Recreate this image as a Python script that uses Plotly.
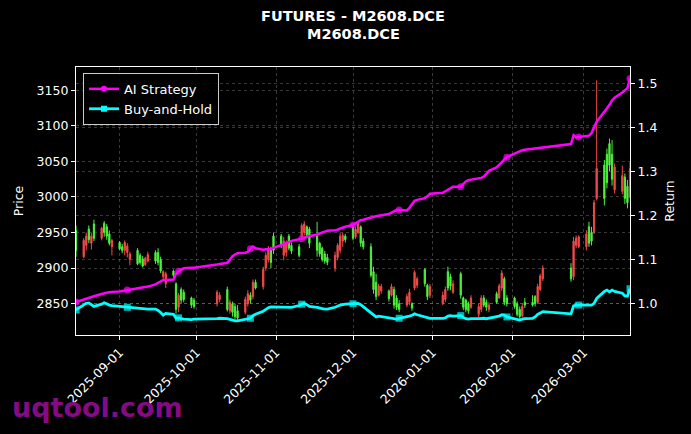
import pandas as pd
import plotly.graph_objects as go

# ---------------- data ----------------
holidays = ["2025-10-01", "2025-10-02", "2025-10-03", "2025-10-06", "2025-10-07", "2025-10-08",
            "2026-01-01", "2026-01-02",
            "2026-02-16", "2026-02-17", "2026-02-18", "2026-02-19", "2026-02-20", "2026-02-23"]
all_days = pd.bdate_range("2025-08-15", "2026-03-19")
dates = [d for d in all_days if d.strftime("%Y-%m-%d") not in holidays]

opens = [2953, 2916, 2932, 2955, 2935, 2962, 2942, 2963, 2958, 2948, 2930,
         2936, 2930, 2925, 2922, 2912, 2925, 2918, 2913, 2905, 2910, 2922, 2922, 2912, 2888, 2878,
         2896, 2878, 2845, 2870, 2866, 2858, 2855,
         2850, 2856, 2870, 2840, 2850, 2846, 2840, 2838, 2850, 2862, 2860, 2880, 2874, 2900, 2912, 2926, 2945,
         2945, 2918, 2922, 2945, 2932, 2930, 2944, 2950, 2958, 2955, 2945, 2935, 2928, 2920, 2915,
         2900, 2915, 2925, 2938, 2945,
         2958, 2944, 2950, 2958, 2938, 2930, 2895, 2880, 2862, 2868, 2868, 2862, 2870, 2858, 2850,
         2848, 2852, 2850, 2872, 2876, 2898, 2876, 2862,
         2850, 2856, 2895, 2888, 2866, 2892, 2858, 2855, 2850, 2845, 2835, 2842, 2858, 2852, 2842,
         2864, 2858, 2872, 2885, 2858,
         2858, 2850, 2842, 2833, 2852, 2852, 2860, 2852, 2870, 2885,
         2900, 2888, 2932, 2930,
         2930, 2958, 2950, 2950, 2998, 3045, 3060, 3075, 3060, 3010, 3008, 3028, 3015, 3000]
highs = [2960, 2942, 2950, 2960, 2950, 2968, 2958, 2966, 2962, 2953, 2941,
         2938, 2934, 2939, 2935, 2923, 2928, 2921, 2917, 2916, 2923, 2925, 2928, 2916, 2897, 2895,
         2898, 2880, 2865, 2873, 2870, 2860, 2858,
         2869, 2866, 2874, 2856, 2853, 2850, 2848, 2860, 2869, 2866, 2884, 2884, 2902, 2922, 2931, 2930, 2950,
         2948, 2944, 2939, 2948, 2936, 2934, 2963, 2966, 2960, 2958, 2965, 2937, 2930, 2924, 2920,
         2923, 2935, 2949, 2950, 2948,
         2963, 2958, 2965, 2960, 2942, 2935, 2902, 2892, 2878, 2878, 2870, 2878, 2874, 2862, 2855,
         2864, 2871, 2852, 2897, 2888, 2900, 2878, 2878,
         2867, 2874, 2902, 2892, 2883, 2895, 2860, 2857, 2853, 2862, 2850, 2862, 2862, 2856, 2852,
         2867, 2878, 2897, 2888, 2862,
         2860, 2853, 2846, 2850, 2858, 2862, 2862, 2878, 2892, 2904,
         2907, 2944, 2946, 2946,
         2953, 2965, 2958, 2996, 3164, 3052, 3068, 3082, 3080, 3047, 3044, 3033, 3024, 3049]
lows = [2916, 2914, 2925, 2935, 2926, 2938, 2939, 2944, 2940, 2932, 2918,
        2925, 2921, 2918, 2915, 2904, 2904, 2905, 2901, 2903, 2908, 2906, 2904, 2893, 2884, 2872,
        2886, 2836, 2838, 2850, 2852, 2844, 2843,
        2846, 2852, 2839, 2836, 2832, 2828, 2826, 2835, 2846, 2850, 2856, 2870, 2870, 2896, 2908, 2900, 2920,
        2928, 2911, 2916, 2925, 2920, 2915, 2940, 2946, 2944, 2928, 2916, 2916, 2909, 2906, 2904,
        2895, 2911, 2921, 2930, 2936,
        2939, 2941, 2948, 2930, 2926, 2887, 2864, 2855, 2860, 2864, 2853, 2860, 2843, 2841, 2838,
        2845, 2848, 2840, 2869, 2872, 2874, 2855, 2858,
        2848, 2852, 2868, 2869, 2864, 2857, 2841, 2838, 2836, 2843, 2831, 2838, 2845, 2840, 2838,
        2850, 2857, 2868, 2848, 2846,
        2843, 2832, 2829, 2831, 2844, 2846, 2846, 2850, 2868, 2882,
        2881, 2883, 2928, 2928,
        2925, 2930, 2932, 2948, 2995, 2988, 3012, 3036, 3016, 3005, 3004, 2990, 2984, 2998]
closes = [2925, 2939, 2945, 2940, 2945, 2942, 2956, 2950, 2945, 2935, 2939,
          2927, 2925, 2936, 2931, 2920, 2906, 2908, 2903, 2914, 2919, 2910, 2908, 2896, 2895, 2892,
          2890, 2842, 2862, 2855, 2856, 2848, 2846,
          2866, 2862, 2842, 2852, 2838, 2832, 2830, 2856, 2864, 2855, 2880, 2872, 2898, 2918, 2926, 2908, 2925,
          2932, 2938, 2935, 2928, 2924, 2918, 2960, 2962, 2947, 2935, 2925, 2920, 2912, 2910, 2908,
          2918, 2932, 2945, 2946, 2940,
          2942, 2955, 2962, 2935, 2930, 2890, 2870, 2860, 2875, 2874, 2857, 2874, 2848, 2845, 2842,
          2860, 2866, 2844, 2894, 2885, 2878, 2860, 2874,
          2862, 2870, 2872, 2875, 2878, 2862, 2845, 2842, 2840, 2858, 2846, 2858, 2848, 2845, 2848,
          2852, 2875, 2893, 2852, 2850,
          2846, 2835, 2832, 2846, 2848, 2848, 2850, 2874, 2889, 2900,
          2885, 2938, 2942, 2944,
          2948, 2935, 2938, 2992, 3040, 2998, 3020, 3045, 3025, 3042, 3030, 2998, 2992, 3040]

ai_strategy = [1.004, 1.010, 1.012, 1.013, 1.015, 1.017, 1.022, 1.024, 1.025, 1.026, 1.027,
               1.028, 1.029, 1.030, 1.031, 1.032, 1.034, 1.035, 1.037, 1.038, 1.039, 1.044, 1.047, 1.050,
               1.054, 1.054, 1.055, 1.068, 1.074, 1.077, 1.081, 1.082, 1.082,
               1.089, 1.090, 1.093, 1.100, 1.108, 1.112, 1.115, 1.116, 1.118, 1.125, 1.130, 1.126, 1.123,
               1.124, 1.124, 1.124, 1.127,
               1.133, 1.136, 1.138, 1.140, 1.143, 1.146, 1.148, 1.150, 1.152, 1.154, 1.157, 1.160, 1.162,
               1.164, 1.166, 1.167, 1.168, 1.171, 1.173, 1.175,
               1.179, 1.182, 1.186, 1.190, 1.191, 1.196, 1.198, 1.199, 1.200, 1.201, 1.204, 1.207, 1.210,
               1.213, 1.213, 1.212, 1.218, 1.226, 1.234, 1.236, 1.240, 1.244, 1.250,
               1.252, 1.256, 1.260, 1.263, 1.266, 1.266, 1.272, 1.278, 1.281, 1.282, 1.284, 1.286, 1.289,
               1.296, 1.302, 1.310, 1.315, 1.322, 1.328, 1.333,
               1.341, 1.344, 1.347, 1.349, 1.350, 1.352, 1.353, 1.354, 1.355, 1.356,
               1.363, 1.383, 1.378, 1.379,
               1.381, 1.382, 1.388, 1.400, 1.414, 1.436, 1.443, 1.452, 1.462, 1.468, 1.480, 1.484, 1.490, 1.512]
buy_and_hold = [0.986, 0.998, 1.001, 1.002, 0.998, 0.994, 0.999, 1.002, 1.000, 0.997, 0.996,
                0.994, 0.993, 0.993, 0.992, 0.991, 0.990, 0.990, 0.989, 0.988, 0.988, 0.988, 0.985, 0.980,
                0.974, 0.978, 0.976, 0.967, 0.968, 0.966, 0.965, 0.964, 0.965,
                0.966, 0.967, 0.966, 0.964, 0.962, 0.961, 0.961, 0.964, 0.966, 0.967, 0.973, 0.976, 0.983,
                0.988, 0.991, 0.993, 0.993,
                0.993, 0.992, 0.993, 0.992, 0.992, 0.996, 0.999, 1.001, 0.998, 0.994, 0.992, 0.990, 0.989,
                0.988, 0.988, 0.992, 0.995, 0.997, 0.998, 0.999,
                1.000, 1.001, 1.001, 0.998, 0.993, 0.980, 0.973, 0.970, 0.972, 0.971, 0.967, 0.966, 0.965,
                0.965, 0.967, 0.970, 0.972, 0.974, 0.977, 0.975, 0.970, 0.967, 0.967,
                0.967, 0.968, 0.972, 0.973, 0.972, 0.973, 0.969, 0.966, 0.965, 0.966, 0.966, 0.967, 0.967,
                0.966, 0.967, 0.970, 0.972, 0.975, 0.974, 0.970,
                0.966, 0.963, 0.963, 0.965, 0.966, 0.967, 0.970, 0.976, 0.980, 0.982,
                0.977, 0.995, 0.997, 0.997,
                0.996, 0.996, 0.997, 1.001, 1.012, 1.028, 1.031, 1.027, 1.031, 1.028, 1.024, 1.018, 1.017, 1.034]

price_ticks = [2850, 2900, 2950, 3000, 3050, 3100, 3150]
return_ticks = [1.0, 1.1, 1.2, 1.3, 1.4, 1.5]
date_ticks = ["2025-09-01", "2025-10-01", "2025-11-01", "2025-12-01",
              "2026-01-01", "2026-02-01", "2026-03-01"]

# ---------------- styling ----------------
RED = "#f24a4a"
GREEN = "#4df23d"
MAGENTA = "#ff00ff"
CYAN = "#00ffff"
FONT = "DejaVu Sans"
GRID = "rgba(140,140,140,0.4)"
GDASH = "3px,3px"
mark_every = 14
marker_sizes = [7 if i % mark_every == 0 else 0 for i in range(len(dates))]

fig = go.Figure()
fig.add_trace(go.Candlestick(
    x=dates, open=opens, high=highs, low=lows, close=closes,
    increasing=dict(line=dict(color=RED, width=1), fillcolor=RED),
    decreasing=dict(line=dict(color=GREEN, width=1), fillcolor=GREEN),
    whiskerwidth=0, showlegend=False, name="M2608.DCE", yaxis="y"))
fig.add_trace(go.Scatter(
    x=dates, y=ai_strategy, mode="lines+markers", name="AI Strategy", yaxis="y2",
    line=dict(color=MAGENTA, width=2.5), showlegend=False,
    marker=dict(symbol="circle", size=marker_sizes, color=MAGENTA, line=dict(width=0))))
fig.add_trace(go.Scatter(
    x=dates, y=buy_and_hold, mode="lines+markers", name="Buy-and-Hold", yaxis="y2",
    line=dict(color=CYAN, width=2.8), showlegend=False,
    marker=dict(symbol="square", size=marker_sizes, color=CYAN, line=dict(width=0))))
# legend entries (line + marker sample)
fig.add_trace(go.Scatter(
    x=[None], y=[None], mode="lines+markers", name="AI Strategy", yaxis="y2",
    line=dict(color=MAGENTA, width=2.5),
    marker=dict(symbol="circle", size=6, color=MAGENTA, line=dict(width=0))))
fig.add_trace(go.Scatter(
    x=[None], y=[None], mode="lines+markers", name="Buy-and-Hold", yaxis="y2",
    line=dict(color=CYAN, width=2.8),
    marker=dict(symbol="square", size=6, color=CYAN, line=dict(width=0))))

axis_common = dict(showline=True, linecolor="white", linewidth=1.2, ticks="outside",
                   ticklen=4, tickcolor="white", tickfont=dict(color="white", size=12.5, family=FONT),
                   zeroline=False)

fig.update_layout(
    width=691, height=434,
    margin=dict(l=76, r=61, t=67, b=99),
    paper_bgcolor="black", plot_bgcolor="black",
    font=dict(family=FONT, color="white", size=12.5),
    xaxis=dict(type="date", range=["2025-08-15", "2026-03-19"], tickvals=date_ticks,
               ticktext=date_ticks, tickangle=-45, mirror=True, showgrid=True,
               gridcolor=GRID, griddash=GDASH, gridwidth=0.6,
               rangeslider=dict(visible=False), **axis_common),
    yaxis=dict(range=[2806, 3182.7], tickvals=price_ticks, mirror=True, showgrid=True,
               gridcolor=GRID, griddash=GDASH, gridwidth=0.6,
               title=dict(text="Price", font=dict(size=12.5, color="white"), standoff=10),
               **axis_common),
    yaxis2=dict(range=[0.929, 1.538], tickvals=return_ticks, tickformat=".1f",
                overlaying="y", side="right", showgrid=True,
                gridcolor=GRID, griddash=GDASH, gridwidth=0.6,
                title=dict(text="Return", font=dict(size=12.5, color="white"), standoff=8),
                **axis_common),
    legend=dict(x=0.0126, y=0.978, xanchor="left", yanchor="top",
                bgcolor="rgba(0,0,0,0.85)", bordercolor="#cccccc", borderwidth=1,
                font=dict(color="white", size=13, family=FONT), tracegroupgap=2),
    showlegend=True,
    annotations=[
        dict(text="<b>FUTURES - M2608.DCE</b>", x=0.5, y=(335 - 16) / 268, xref="paper", yref="paper",
             showarrow=False, font=dict(size=14.5, color="white", family=FONT),
             xanchor="center", yanchor="middle"),
        dict(text="<b>M2608.DCE</b>", x=0.5, y=(335 - 34) / 268, xref="paper", yref="paper",
             showarrow=False, font=dict(size=14.5, color="white", family=FONT),
             xanchor="center", yanchor="middle"),
        dict(text="<b>uqtool.com</b>", x=-0.119, y=-0.272, xref="paper", yref="paper",
             showarrow=False, font=dict(size=27, color="#850a85", family=FONT),
             xanchor="left", yanchor="middle"),
    ],
)

fig.write_html("out.html")
